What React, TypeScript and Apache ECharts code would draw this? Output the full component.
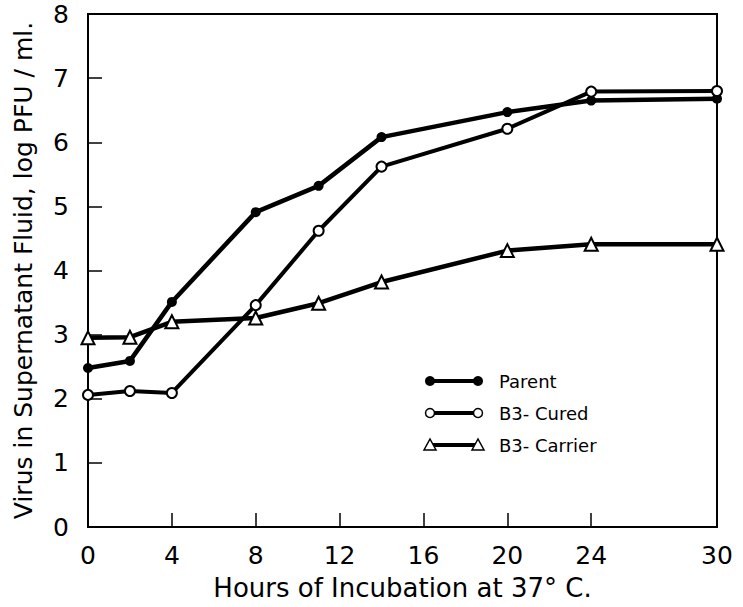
import React, { useEffect, useRef } from "react";
import * as echarts from "echarts";

const hours = [0, 2, 4, 8, 11, 14, 20, 24, 30];
const parentValues = [2.48, 2.59, 3.51, 4.91, 5.32, 6.08, 6.47, 6.65, 6.68];
const curedValues = [2.06, 2.12, 2.09, 3.46, 4.62, 5.62, 6.21, 6.79, 6.8];
const carrierValues = [2.95, 2.96, 3.2, 3.26, 3.49, 3.82, 4.31, 4.41, 4.41];
const xTickValues = [0, 4, 8, 12, 16, 20, 24, 30];
const seriesNames = ["Parent", "B3- Cured", "B3- Carrier"];
const xTitle = "Hours of Incubation at 37° C.";
const yTitle = "Virus in Supernatant Fluid, log PFU / ml.";

const FONT = "DejaVu Sans";

export default function App() {
  const ref = useRef<HTMLDivElement>(null);

  useEffect(() => {
    const chart = echarts.init(ref.current!, null, { renderer: "svg" });
    const pairs = (v: number[]) => hours.map((h, i) => [h, v[i]]);

    const legendX1 = 430;
    const legendX2 = 478;
    const legendTextX = 499;
    const legendYs = [381, 413, 445];

    const legendGraphics: any[] = [];
    legendYs.forEach((y, i) => {
      legendGraphics.push({
        type: "line",
        shape: { x1: legendX1, y1: y, x2: legendX2, y2: y },
        style: { stroke: "#000", lineWidth: 4 },
        z: 10,
      });
      [legendX1, legendX2].forEach((cx) => {
        if (i === 0) {
          legendGraphics.push({
            type: "circle",
            shape: { cx, cy: y, r: 5 },
            style: { fill: "#000" },
            z: 11,
          });
        } else if (i === 1) {
          legendGraphics.push({
            type: "circle",
            shape: { cx, cy: y, r: 4.5 },
            style: { fill: "#fff", stroke: "#000", lineWidth: 1.5 },
            z: 11,
          });
        } else {
          legendGraphics.push({
            type: "polygon",
            shape: {
              points: [
                [cx - 6, y + 5],
                [cx + 6, y + 5],
                [cx, y - 6],
              ],
            },
            style: { fill: "#fff", stroke: "#000", lineWidth: 1.5 },
            z: 11,
          });
        }
      });
      legendGraphics.push({
        type: "text",
        x: legendTextX,
        y: y,
        style: {
          text: seriesNames[i],
          font: `18px "${FONT}"`,
          fill: "#000",
          verticalAlign: "middle",
          align: "left",
        },
        z: 11,
      });
    });

    const option: any = {
      animation: false,
      backgroundColor: "#fff",
      grid: {
        left: 88,
        right: 26,
        top: 14,
        bottom: 80,
        show: true,
        borderColor: "#000",
        borderWidth: 2,
        backgroundColor: "transparent",
      },
      xAxis: {
        type: "value",
        min: 0,
        max: 30,
        name: xTitle,
        nameLocation: "middle",
        nameGap: 48,
        nameTextStyle: { fontFamily: FONT, fontSize: 26, color: "#000" },
        axisLine: { show: true, lineStyle: { color: "#000", width: 2 } },
        axisTick: {
          show: true,
          inside: true,
          length: 14,
          customValues: xTickValues,
          lineStyle: { color: "#000", width: 1.5 },
        },
        axisLabel: {
          customValues: xTickValues,
          fontFamily: FONT,
          fontSize: 25,
          color: "#000",
          margin: 16,
        },
        splitLine: { show: false },
      },
      yAxis: {
        type: "value",
        min: 0,
        max: 8,
        interval: 1,
        name: yTitle,
        nameLocation: "middle",
        nameGap: 52,
        nameRotate: 90,
        nameTextStyle: { fontFamily: FONT, fontSize: 25, color: "#000" },
        axisLine: { show: true, lineStyle: { color: "#000", width: 2 } },
        axisTick: {
          show: true,
          inside: true,
          length: 14,
          lineStyle: { color: "#000", width: 1.5 },
        },
        axisLabel: {
          fontFamily: FONT,
          fontSize: 25,
          color: "#000",
          margin: 19,
        },
        splitLine: { show: false },
      },
      series: [
        {
          name: seriesNames[2],
          type: "line",
          data: pairs(carrierValues),
          symbol: "emptyTriangle",
          symbolSize: 13,
          lineStyle: { color: "#000", width: 4.5 },
          itemStyle: { color: "#000", borderWidth: 1.5 },
          z: 3,
        },
        {
          name: seriesNames[0],
          type: "line",
          data: pairs(parentValues),
          symbol: "circle",
          symbolSize: 10,
          lineStyle: { color: "#000", width: 4.5 },
          itemStyle: { color: "#000" },
          z: 4,
        },
        {
          name: seriesNames[1],
          type: "line",
          data: pairs(curedValues),
          symbol: "emptyCircle",
          symbolSize: 10,
          lineStyle: { color: "#000", width: 4 },
          itemStyle: { color: "#000", borderWidth: 1.5 },
          z: 5,
        },
      ],
      graphic: legendGraphics,
    };

    chart.setOption(option);
    return () => chart.dispose();
  }, []);

  return (
    <div
      ref={ref}
      style={{ position: "absolute", left: 0, top: 0, width: 743, height: 607 }}
    />
  );
}
